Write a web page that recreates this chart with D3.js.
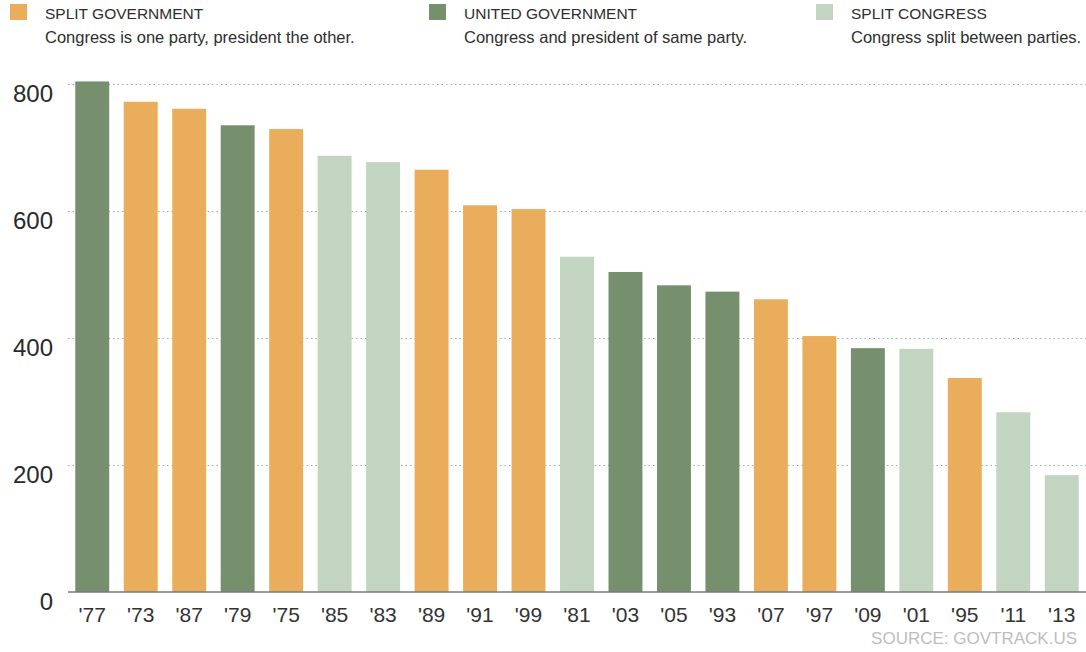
<!DOCTYPE html>
<html>
<head>
<meta charset="utf-8">
<script src="https://cdn.jsdelivr.net/npm/d3@7"></script>
<style>
  html, body { margin: 0; padding: 0; background: #fff; }
  svg { display: block; font-family: "Liberation Sans", Arial, sans-serif; }
</style>
</head>
<body>
<svg id="chart" width="1086" height="652"></svg>
<script>
// Congresses sorted by number of bills enacted
const years = ["'77","'73","'87","'79","'75","'85","'83","'89","'91","'99","'81","'03","'05","'93","'07","'97","'09","'01","'95","'11","'13"];
const laws  = [804, 772, 761, 735, 729, 687, 677, 665, 609, 603, 528, 504, 483, 473, 461, 403, 384, 383, 337, 283, 184];
const kinds = ["united","split","split","united","split","congress","congress","split","split","split","congress","united","united","united","split","split","united","congress","split","congress","congress"];

const yTicks = [0, 200, 400, 600, 800];

const legendKeys   = ["split", "united", "congress"];
const legendTitles = ["SPLIT GOVERNMENT", "UNITED GOVERNMENT", "SPLIT CONGRESS"];
const legendNotes  = ["Congress is one party, president the other.", "Congress and president of same party.", "Congress split between parties."];

const palette = { split: "#EAAD5B", united: "#768F6C", congress: "#C1D5C1" };

const svg = d3.select("#chart");
const plotLeft = 68, plotRight = 1086;

const x = d3.scaleBand()
  .domain(years)
  .range([plotLeft, plotRight])
  .paddingInner(0.3)
  .paddingOuter(0.15);

const y = d3.scaleLinear().domain([0, 800]).range([592, 84]);

// dotted gridlines
svg.append("g")
  .selectAll("line")
  .data(yTicks.filter(d => d > 0))
  .join("line")
  .attr("x1", plotLeft).attr("x2", plotRight)
  .attr("y1", d => y(d) + 0.5).attr("y2", d => y(d) + 0.5)
  .attr("stroke", "#a8a8a8")
  .attr("stroke-width", 1)
  .attr("stroke-dasharray", "1.5,3");

// y tick labels sit just under each gridline
svg.append("g")
  .selectAll("text")
  .data(yTicks)
  .join("text")
  .attr("x", 53)
  .attr("y", d => y(d) + 18)
  .attr("text-anchor", "end")
  .attr("font-size", 24)
  .attr("fill", "#2a2a2a")
  .text(d => d);

// bars
const rows = years.map((yr, i) => ({ yr, v: laws[i], k: kinds[i] }));
svg.append("g")
  .selectAll("rect")
  .data(rows)
  .join("rect")
  .attr("x", d => x(d.yr))
  .attr("width", x.bandwidth())
  .attr("y", d => y(d.v))
  .attr("height", d => y(0) - y(d.v))
  .attr("fill", d => palette[d.k]);

// baseline and x labels
const xAxis = svg.append("g").attr("transform", `translate(0,${y(0)})`)
  .call(d3.axisBottom(x).tickSize(0).tickPadding(0));
xAxis.select(".domain").attr("stroke", "#7a7a7a").attr("stroke-width", 1.5)
  .attr("d", `M${plotLeft},0H${plotRight}`);
xAxis.selectAll(".tick text")
  .attr("dy", null)
  .attr("y", 30)
  .attr("font-size", 21)
  .attr("font-family", "\"Liberation Sans\", Arial, sans-serif")
  .attr("fill", "#333");

// legend
const legendX = [10, 429, 816];
const lg = svg.append("g")
  .selectAll("g")
  .data(legendKeys)
  .join("g")
  .attr("transform", (d, i) => `translate(${legendX[i]},0)`);
lg.append("rect")
  .attr("x", 0).attr("y", 4)
  .attr("width", 17).attr("height", 16)
  .attr("fill", d => palette[d]);
lg.append("text")
  .attr("x", 35).attr("y", 19)
  .attr("font-size", 15.5)
  .attr("fill", "#2e2e2e")
  .text((d, i) => legendTitles[i]);
lg.append("text")
  .attr("x", 35).attr("y", 43)
  .attr("font-size", 16.5)
  .attr("fill", "#2e2e2e")
  .text((d, i) => legendNotes[i]);

// source
svg.append("text")
  .attr("x", 1077).attr("y", 644)
  .attr("text-anchor", "end")
  .attr("font-size", 17)
  .attr("fill", "#bdbdbd")
  .text("SOURCE: GOVTRACK.US");
</script>
</body>
</html>
